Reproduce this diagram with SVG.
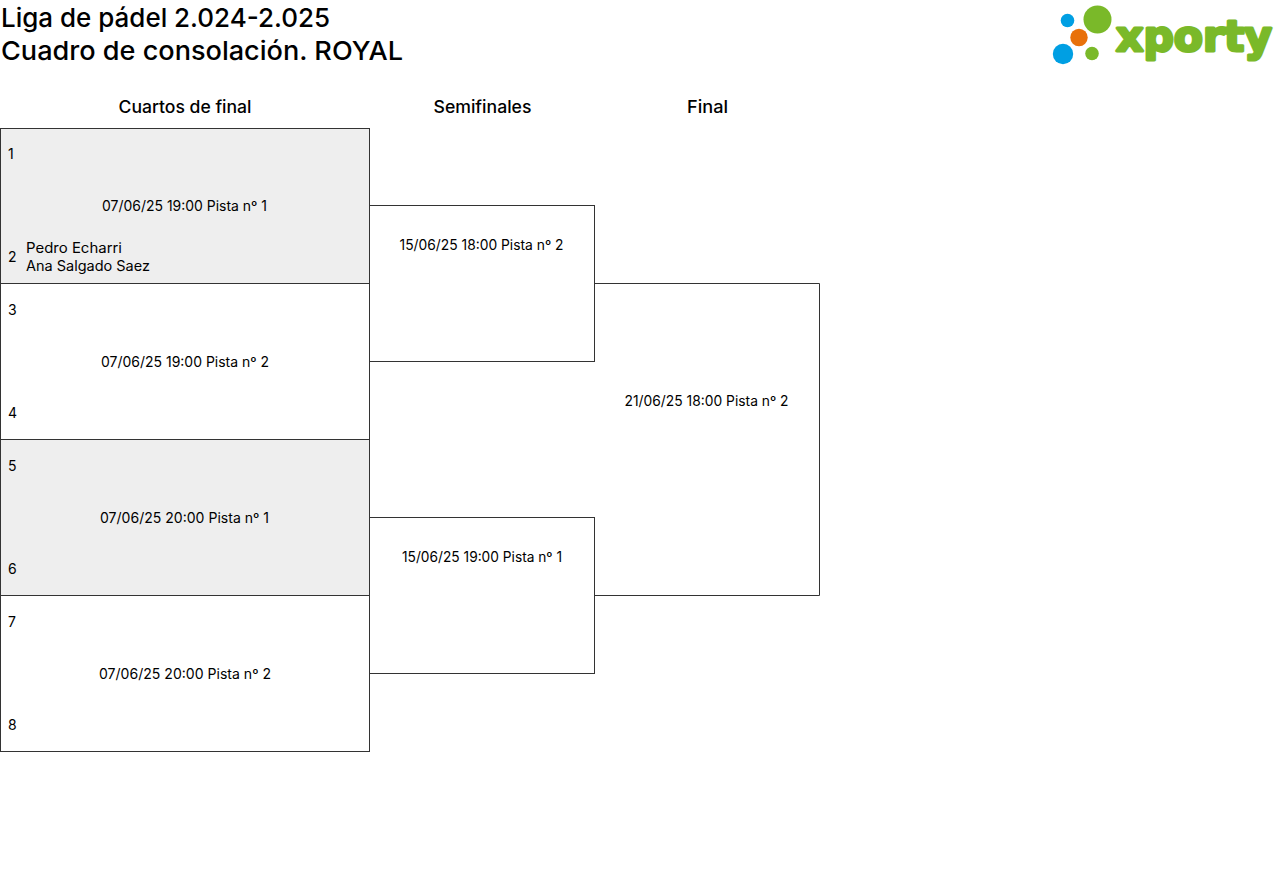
<svg xmlns="http://www.w3.org/2000/svg" width="1280" height="883" viewBox="0 0 1280 883">
<style>
text{font-family:"Inter","Noto Sans","Liberation Sans",sans-serif;fill:#000}
.t{font-size:26px;font-weight:500}
.h{font-size:17px;font-weight:500;text-anchor:middle}
.s{font-size:14px}
.m{font-size:14px;text-anchor:middle}
.b{fill:#fff;stroke:#333;stroke-width:1}
.g{fill:#eee;stroke:#333;stroke-width:1}
.o{fill:none;stroke:#333;stroke-width:1}
.logo{font-family:"DejaVu Sans",sans-serif;font-weight:700;font-size:43px;fill:#7ab929;stroke:#7ab929;stroke-width:3;stroke-linejoin:round}
</style>
<rect width="1280" height="883" fill="#fff"/>
<g id="title">
<text class="t" x="1" y="27" textLength="329" lengthAdjust="spacingAndGlyphs">Liga de pádel 2.024-2.025</text>
<text class="t" x="1" y="60" textLength="402" lengthAdjust="spacingAndGlyphs">Cuadro de consolación. ROYAL</text>
</g>
<g id="logo">
<circle cx="1097.500" cy="19.500" r="14" fill="#7ab929"/>
<circle cx="1067.500" cy="20.500" r="6.800" fill="#009fe3"/>
<circle cx="1079" cy="37.500" r="8.700" fill="#e8710a"/>
<circle cx="1063" cy="54" r="10.200" fill="#009fe3"/>
<circle cx="1092" cy="53.500" r="6.800" fill="#7ab929"/>
<text class="logo" x="1116" y="51" textLength="156" lengthAdjust="spacingAndGlyphs">xporty</text>
</g>
<g id="headers">
<text class="h" x="185" y="113" textLength="133" lengthAdjust="spacingAndGlyphs">Cuartos de final</text>
<text class="h" x="482.500" y="113" textLength="98" lengthAdjust="spacingAndGlyphs">Semifinales</text>
<text class="h" x="707.500" y="113" textLength="41" lengthAdjust="spacingAndGlyphs">Final</text>
</g>
<g id="sf1">
<rect class="b" x="369.500" y="205.500" width="225" height="156"/>
<text class="m" x="481.500" y="250" textLength="164" lengthAdjust="spacingAndGlyphs">15/06/25 18:00 Pista nº 2</text>
</g>
<g id="sf2">
<rect class="b" x="369.500" y="517.500" width="225" height="156"/>
<text class="m" x="482" y="562" textLength="160" lengthAdjust="spacingAndGlyphs">15/06/25 19:00 Pista nº 1</text>
</g>
<g id="final">
<path class="o" d="M594.500 283.500H819.500V595.500H594.500"/>
<text class="m" x="706.500" y="406" textLength="164" lengthAdjust="spacingAndGlyphs">21/06/25 18:00 Pista nº 2</text>
</g>
<g id="qf1">
<rect class="g" x="0.500" y="128.500" width="369" height="155"/>
<text class="s" x="8" y="159">1</text>
<text class="m" x="184.500" y="211" textLength="165" lengthAdjust="spacingAndGlyphs">07/06/25 19:00 Pista nº 1</text>
<text class="s" x="8" y="262">2</text>
<text class="s" x="26" y="253" textLength="96" lengthAdjust="spacingAndGlyphs">Pedro Echarri</text>
<text class="s" x="26" y="271" textLength="124" lengthAdjust="spacingAndGlyphs">Ana Salgado Saez</text>
</g>
<g id="qf2">
<rect class="b" x="0.500" y="283.500" width="369" height="156"/>
<text class="s" x="8" y="315">3</text>
<text class="m" x="185" y="367" textLength="168" lengthAdjust="spacingAndGlyphs">07/06/25 19:00 Pista nº 2</text>
<text class="s" x="8" y="418">4</text>
</g>
<g id="qf3">
<rect class="g" x="0.500" y="439.500" width="369" height="156"/>
<text class="s" x="8" y="471">5</text>
<text class="m" x="184.500" y="523" textLength="169" lengthAdjust="spacingAndGlyphs">07/06/25 20:00 Pista nº 1</text>
<text class="s" x="8" y="574">6</text>
</g>
<g id="qf4">
<rect class="b" x="0.500" y="595.500" width="369" height="156"/>
<text class="s" x="8" y="627">7</text>
<text class="m" x="185" y="679" textLength="172" lengthAdjust="spacingAndGlyphs">07/06/25 20:00 Pista nº 2</text>
<text class="s" x="8" y="730">8</text>
</g>
</svg>
